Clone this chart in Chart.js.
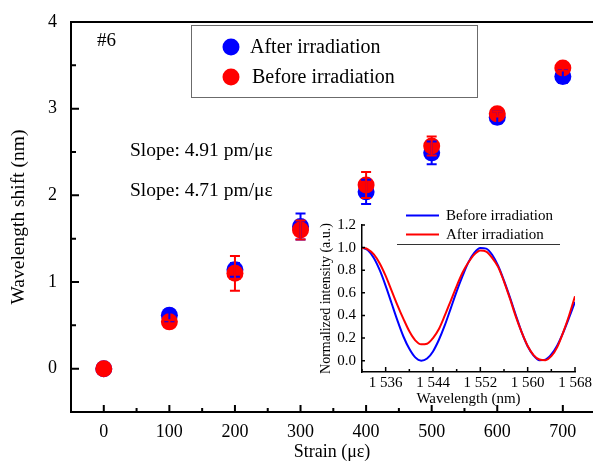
<!DOCTYPE html>
<html>
<head>
<meta charset="utf-8">
<script src="https://cdn.jsdelivr.net/npm/chart.js@4.4.1/dist/chart.umd.min.js"></script>
<style>
	body { margin: 0; background: #fff; }
	#wrap { position: relative; width: 593px; height: 466px; }
	#main { position: absolute; left: 0; top: 0; }
	#inset { position: absolute; left: 310px; top: 200px; }
</style>
</head>
<body>
<div id="wrap">
	<canvas id="main" width="593" height="466"></canvas>
	<canvas id="inset" width="283" height="210"></canvas>
</div>
<script>
// Wavelength shift vs strain (grating #6)
const strain = [0, 100, 200, 300, 400, 500, 600, 700];
const shiftAfter = [0, 0.615, 1.14, 1.64, 2.04, 2.49, 2.90, 3.37];
const errAfter = [0, 0.07, 0.08, 0.15, 0.14, 0.13, 0.07, 0.075];
const shiftBefore = [0, 0.54, 1.10, 1.60, 2.12, 2.57, 2.94, 3.47];
const errBefore = [0, 0.02, 0.20, 0.11, 0.15, 0.11, 0.03, 0.03];

const strainTicks = [0, 50, 100, 150, 200, 250, 300, 350, 400, 450, 500, 550, 600, 650, 700];
const shiftTicks = [0, 0.5, 1, 1.5, 2, 2.5, 3, 3.5, 4];

// Inset: transmission spectra
const wavelength = [
	1532, 1533, 1534, 1535, 1536, 1537, 1538, 1539, 1540, 1541, 1542,
	1543, 1544, 1545, 1546, 1547, 1548, 1549, 1550, 1551, 1552,
	1553, 1554, 1555, 1556, 1557, 1558, 1559, 1560, 1561, 1562,
	1563, 1564, 1565, 1566, 1567, 1568,
];
const specBefore = [
	1.0, 0.976, 0.908, 0.80, 0.662, 0.508, 0.354, 0.214, 0.105, 0.029, 0.0,
	0.019, 0.082, 0.185, 0.314, 0.463, 0.613, 0.75, 0.872, 0.955, 0.996,
	0.991, 0.937, 0.84, 0.708, 0.56, 0.402, 0.25, 0.128, 0.045, 0.003,
	0.009, 0.055, 0.135, 0.248, 0.38, 0.52,
];
const specAfter = [
	1.0, 0.985, 0.94, 0.86, 0.75, 0.62, 0.49, 0.37, 0.26, 0.18, 0.145,
	0.15, 0.2, 0.28, 0.4, 0.53, 0.66, 0.78, 0.87, 0.94, 0.975,
	0.965, 0.91, 0.83, 0.7, 0.55, 0.39, 0.25, 0.13, 0.05, 0.01,
	0.005, 0.04, 0.12, 0.25, 0.4, 0.57,
];
const wlTicks = [1532, 1536, 1540, 1544, 1548, 1552, 1556, 1560, 1564, 1568];
const intTicks = [0, 0.2, 0.4, 0.6, 0.8, 1.0, 1.2];

const SERIF = "'Liberation Serif', 'Times New Roman', serif";
const BLUE = '#0000ff';
const RED = '#ff0000';

function pairs(xs, ys) {
	return xs.map((x, i) => ({ x: x, y: ys[i] }));
}

// no extra edge padding from the scales, chart area set by layout only
function noEdgePad(s) {
	s.paddingLeft = 0;
	s.paddingRight = 0;
	s.paddingTop = 0;
	s.paddingBottom = 0;
}

// error bars drawn over the markers
const errorBars = {
	id: 'errorBars',
	afterDatasetsDraw(chart) {
		const ctx = chart.ctx;
		const ys = chart.scales.y;
		chart.data.datasets.forEach((ds, i) => {
			const meta = chart.getDatasetMeta(i);
			ctx.save();
			ctx.strokeStyle = ds.backgroundColor;
			ctx.lineWidth = 2;
			meta.data.forEach((pt, j) => {
				const e = ds.errors[j];
				if (!e) return;
				const v = ds.data[j].y;
				const top = ys.getPixelForValue(v + e);
				const bot = ys.getPixelForValue(v - e);
				ctx.beginPath();
				ctx.moveTo(pt.x, top); ctx.lineTo(pt.x, bot);
				ctx.moveTo(pt.x - 5, top); ctx.lineTo(pt.x + 5, top);
				ctx.moveTo(pt.x - 5, bot); ctx.lineTo(pt.x + 5, bot);
				ctx.stroke();
			});
			ctx.restore();
		});
	},
};

// inward tick marks, top frame line
function innerTicks(opts) {
	return {
		id: 'innerTicks',
		afterDraw(chart) {
			const ctx = chart.ctx;
			const a = chart.chartArea;
			const xs = chart.scales.x, ys = chart.scales.y;
			ctx.save();
			ctx.strokeStyle = '#000';
			ctx.lineWidth = opts.width;
			ctx.beginPath();
			xs.ticks.forEach(t => {
				const px = xs.getPixelForValue(t.value);
				const len = opts.xMajor(t.value) ? opts.xLen[0] : opts.xLen[1];
				ctx.moveTo(px, a.bottom); ctx.lineTo(px, a.bottom - len);
			});
			ys.ticks.forEach(t => {
				const py = ys.getPixelForValue(t.value);
				const len = opts.yMajor(t.value) ? opts.yLen[0] : opts.yLen[1];
				ctx.moveTo(a.left, py); ctx.lineTo(a.left + len, py);
			});
			if (opts.topLine) {
				ctx.moveTo(a.left - 1, a.top); ctx.lineTo(a.right, a.top);
			}
			ctx.stroke();
			ctx.restore();
		},
	};
}

// legend box and text notes
const mainNotes = {
	id: 'mainNotes',
	afterDraw(chart) {
		const ctx = chart.ctx;
		const ds = chart.data.datasets;
		ctx.save();
		ctx.strokeStyle = '#6b6b6b';
		ctx.lineWidth = 1;
		ctx.strokeRect(191.5, 25.5, 286, 72);
		ctx.font = '20px ' + SERIF;
		ctx.textBaseline = 'middle';
		ctx.fillStyle = ds[0].backgroundColor;
		ctx.beginPath(); ctx.arc(231, 47, 8.5, 0, Math.PI * 2); ctx.fill();
		ctx.fillStyle = ds[1].backgroundColor;
		ctx.beginPath(); ctx.arc(231, 77, 8.5, 0, Math.PI * 2); ctx.fill();
		ctx.fillStyle = '#000';
		ctx.fillText(ds[0].label, 250, 48);
		ctx.fillText(ds[1].label, 252, 78);
		ctx.font = '19px ' + SERIF;
		ctx.fillText('#6', 97, 41);
		ctx.font = '19.5px ' + SERIF;
		ctx.fillText('Slope: 4.91 pm/με', 130, 151);
		ctx.fillText('Slope: 4.71 pm/με', 130, 191);
		ctx.restore();
	},
};

const insetNotes = {
	id: 'insetNotes',
	afterDraw(chart) {
		const ctx = chart.ctx;
		const ds = chart.data.datasets;
		ctx.save();
		ctx.lineWidth = 2;
		ctx.strokeStyle = ds[0].borderColor;
		ctx.beginPath(); ctx.moveTo(96, 15.5); ctx.lineTo(129, 15.5); ctx.stroke();
		ctx.strokeStyle = ds[1].borderColor;
		ctx.beginPath(); ctx.moveTo(96, 34.5); ctx.lineTo(129, 34.5); ctx.stroke();
		ctx.strokeStyle = '#333';
		ctx.lineWidth = 1;
		ctx.beginPath(); ctx.moveTo(87, 44.5); ctx.lineTo(250, 44.5); ctx.stroke();
		ctx.font = '15px ' + SERIF;
		ctx.fillStyle = '#000';
		ctx.textBaseline = 'middle';
		ctx.fillText(ds[0].label, 136, 16);
		ctx.fillText(ds[1].label, 136, 35);
		ctx.restore();
	},
};

new Chart(document.getElementById('main'), {
	type: 'scatter',
	data: {
		datasets: [
			{
				label: 'After irradiation',
				data: pairs(strain, shiftAfter),
				errors: errAfter,
				backgroundColor: BLUE,
				borderWidth: 0,
				pointRadius: 8.5,
				pointHoverRadius: 8.5,
				order: 2,
			},
			{
				label: 'Before irradiation',
				data: pairs(strain, shiftBefore),
				errors: errBefore,
				backgroundColor: RED,
				borderWidth: 0,
				pointRadius: 8.5,
				pointHoverRadius: 8.5,
				order: 1,
			},
		],
	},
	options: {
		responsive: false,
		animation: false,
		layout: { autoPadding: false, padding: { top: 22, right: 0, left: 0, bottom: 0 } },
		plugins: { legend: { display: false }, tooltip: { enabled: false } },
		scales: {
			x: {
				type: 'linear',
				min: -50,
				max: 746,
				afterBuildTicks: s => { s.ticks = strainTicks.map(v => ({ value: v })); },
				afterFit: s => { s.height = 54; noEdgePad(s); },
				grid: { display: false, drawTicks: false },
				border: { display: true, color: '#000', width: 2 },
				ticks: {
					autoSkip: false,
					maxRotation: 0,
					padding: 9,
					color: '#000',
					font: { family: SERIF, size: 18 },
					callback: v => (v % 100 === 0 ? String(v) : ''),
				},
				title: {
					display: true,
					text: 'Strain (με)',
					color: '#000',
					font: { family: SERIF, size: 18 },
					padding: { top: 0, bottom: 3 },
				},
			},
			y: {
				min: -0.5,
				max: 4,
				afterBuildTicks: s => { s.ticks = shiftTicks.map(v => ({ value: v })); },
				afterFit: s => { s.width = 71; noEdgePad(s); },
				grid: { display: false, drawTicks: false },
				border: { display: true, color: '#000', width: 2 },
				ticks: {
					autoSkip: false,
					padding: 14,
					color: '#000',
					font: { family: SERIF, size: 18 },
					callback: v => (Number.isInteger(v) ? String(v) : ''),
				},
				title: {
					display: true,
					text: 'Wavelength shift (nm)',
					color: '#000',
					font: { family: SERIF, size: 19.5 },
					padding: { top: 7, bottom: 0 },
				},
			},
		},
	},
	plugins: [
		errorBars,
		innerTicks({
			width: 2,
			xMajor: v => v % 100 === 0,
			yMajor: v => Number.isInteger(v),
			xLen: [7, 4],
			yLen: [8, 5],
			topLine: true,
		}),
		mainNotes,
	],
});

new Chart(document.getElementById('inset'), {
	type: 'line',
	data: {
		datasets: [
			{
				label: 'Before irradiation',
				data: pairs(wavelength, specBefore),
				borderColor: BLUE,
				borderWidth: 2,
				pointRadius: 0,
				cubicInterpolationMode: 'monotone',
				order: 2,
			},
			{
				label: 'After irradiation',
				data: pairs(wavelength, specAfter),
				borderColor: RED,
				borderWidth: 2,
				pointRadius: 0,
				cubicInterpolationMode: 'monotone',
				order: 1,
			},
		],
	},
	options: {
		responsive: false,
		animation: false,
		layout: { autoPadding: false, padding: { top: 25, right: 18, left: 0, bottom: 0 } },
		plugins: { legend: { display: false }, tooltip: { enabled: false } },
		scales: {
			x: {
				type: 'linear',
				min: 1532,
				max: 1568,
				afterBuildTicks: s => { s.ticks = wlTicks.map(v => ({ value: v })); },
				afterFit: s => { s.height = 38; noEdgePad(s); },
				grid: { display: false, drawTicks: false },
				border: { display: true, color: '#000', width: 1.5 },
				ticks: {
					autoSkip: false,
					maxRotation: 0,
					padding: 2,
					color: '#000',
					font: { family: SERIF, size: 15 },
					callback: v => ((v - 1536) % 8 === 0 ? String(v).replace(/^1/, '1 ') : ''),
				},
				title: {
					display: true,
					text: 'Wavelength (nm)',
					color: '#000',
					font: { family: SERIF, size: 15 },
					padding: { top: 0, bottom: 2 },
				},
			},
			y: {
				min: -0.1,
				max: 1.2,
				afterBuildTicks: s => { s.ticks = intTicks.map(v => ({ value: v })); },
				afterFit: s => { s.width = 52; noEdgePad(s); },
				grid: { display: false, drawTicks: false },
				border: { display: true, color: '#000', width: 1.5 },
				ticks: {
					autoSkip: false,
					padding: 6,
					color: '#000',
					font: { family: SERIF, size: 15 },
					callback: v => v.toFixed(1),
				},
				title: {
					display: true,
					text: 'Normalized intensity (a.u.)',
					color: '#000',
					font: { family: SERIF, size: 14 },
					padding: { top: 8, bottom: 0 },
				},
			},
		},
	},
	plugins: [
		innerTicks({
			width: 1.5,
			xMajor: v => (v - 1536) % 8 === 0,
			yMajor: () => true,
			xLen: [5, 3],
			yLen: [3, 3],
			topLine: false,
		}),
		insetNotes,
	],
});
</script>
</body>
</html>
